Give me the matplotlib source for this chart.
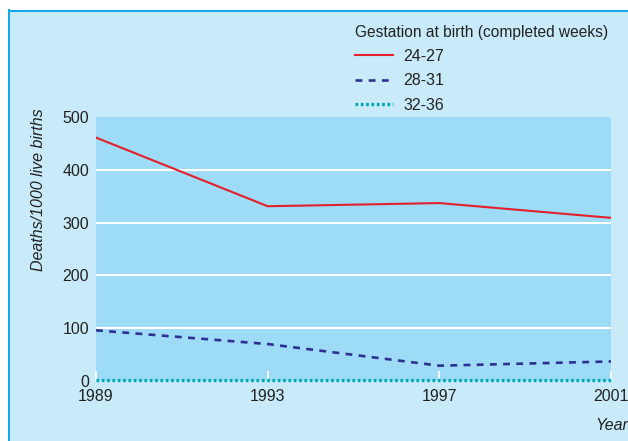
import matplotlib
matplotlib.use("Agg")
import matplotlib.pyplot as plt
from matplotlib import font_manager
from matplotlib.lines import Line2D

names = {f.name for f in font_manager.fontManager.ttflist}
fam = [f for f in ["Liberation Sans Narrow", "Liberation Sans", "DejaVu Sans"] if f in names]
plt.rcParams["font.family"] = fam

years = [1989, 1993, 1997, 2001]
series_labels = ["24-27", "28-31", "32-36"]
g24_27 = [461, 331, 337, 309]
g28_31 = [96, 70, 29, 37]
g32_36 = [1, 1, 1, 1]
yticks = [0, 100, 200, 300, 400, 500]

W, H = 628, 441
fig = plt.figure(figsize=(W / 100, H / 100), dpi=100)
fig.patch.set_facecolor("white")

outer = "#C9EAF9"
inner = "#9DDBF6"
edge = "#1AA7E8"
txt = "#222222"
fig.patches.append(plt.Rectangle((8 / W, 0), 1 - 8 / W, (H - 10) / H, transform=fig.transFigure,
                                 facecolor=outer, edgecolor="none", zorder=-10))
fig.lines.append(Line2D([8.5 / W, 8.5 / W], [0, (H - 10) / H], transform=fig.transFigure,
                        color=edge, lw=1.5, zorder=-5))
fig.lines.append(Line2D([8.5 / W, 1], [(H - 10.5) / H, (H - 10.5) / H], transform=fig.transFigure,
                        color=edge, lw=1.5, zorder=-5))

ax = fig.add_axes([96 / W, 1 - 381 / H, (611 - 96) / W, (381 - 117) / H])
ax.set_facecolor(inner)
for s in ax.spines.values():
    s.set_visible(False)

for v in yticks[1:-1]:
    ax.axhline(v, color="white", lw=1.5, zorder=1)

colors = ["#E3202B", "#2E3192", "#00A7B5"]
l1, = ax.plot(years, g24_27, color=colors[0], lw=1.5, zorder=3)
l2, = ax.plot(years, g28_31, color=colors[1], lw=1.9, dashes=(2.6, 2.4), zorder=3)
l3, = ax.plot(years, g32_36, color=colors[2], lw=2.4, dashes=(0.8, 0.8), zorder=3, clip_on=False)

ax.set_xlim(1989, 2001)
ax.set_ylim(0, 500)
ax.set_xticks(years)
ax.set_xticklabels([str(y) for y in years], fontsize=11.5)
ax.set_yticks(yticks)
ax.set_yticklabels([str(v) for v in yticks], fontsize=11.5)
ax.tick_params(axis="y", length=0, pad=5, colors=txt)
ax.tick_params(axis="x", direction="in", length=7, width=1.2, color="white", pad=6, labelcolor=txt)

fig.text(39 / W, 1 - 108 / H, "Deaths/1000 live births", rotation=90, ha="center", va="top",
         fontsize=11.5, style="italic", color=txt)
fig.text(1.0, 1 - 425 / H, "Year", ha="right", va="center", fontsize=11.5, style="italic", color=txt)

fig.text(355 / W, 1 - 32 / H, "Gestation at birth (completed weeks)", ha="left", va="center",
         fontsize=11.2, color=txt)
leg = fig.legend([l1, l2, l3], series_labels, loc="upper left",
                 bbox_to_anchor=(355 / W, 1 - 49 / H), frameon=False, fontsize=11.5,
                 handlelength=2.4, handletextpad=0.65, labelspacing=0.58,
                 borderpad=0, borderaxespad=0)
for t in leg.get_texts():
    t.set_color(txt)

fig.savefig("out.png", dpi=100, facecolor=fig.get_facecolor())
